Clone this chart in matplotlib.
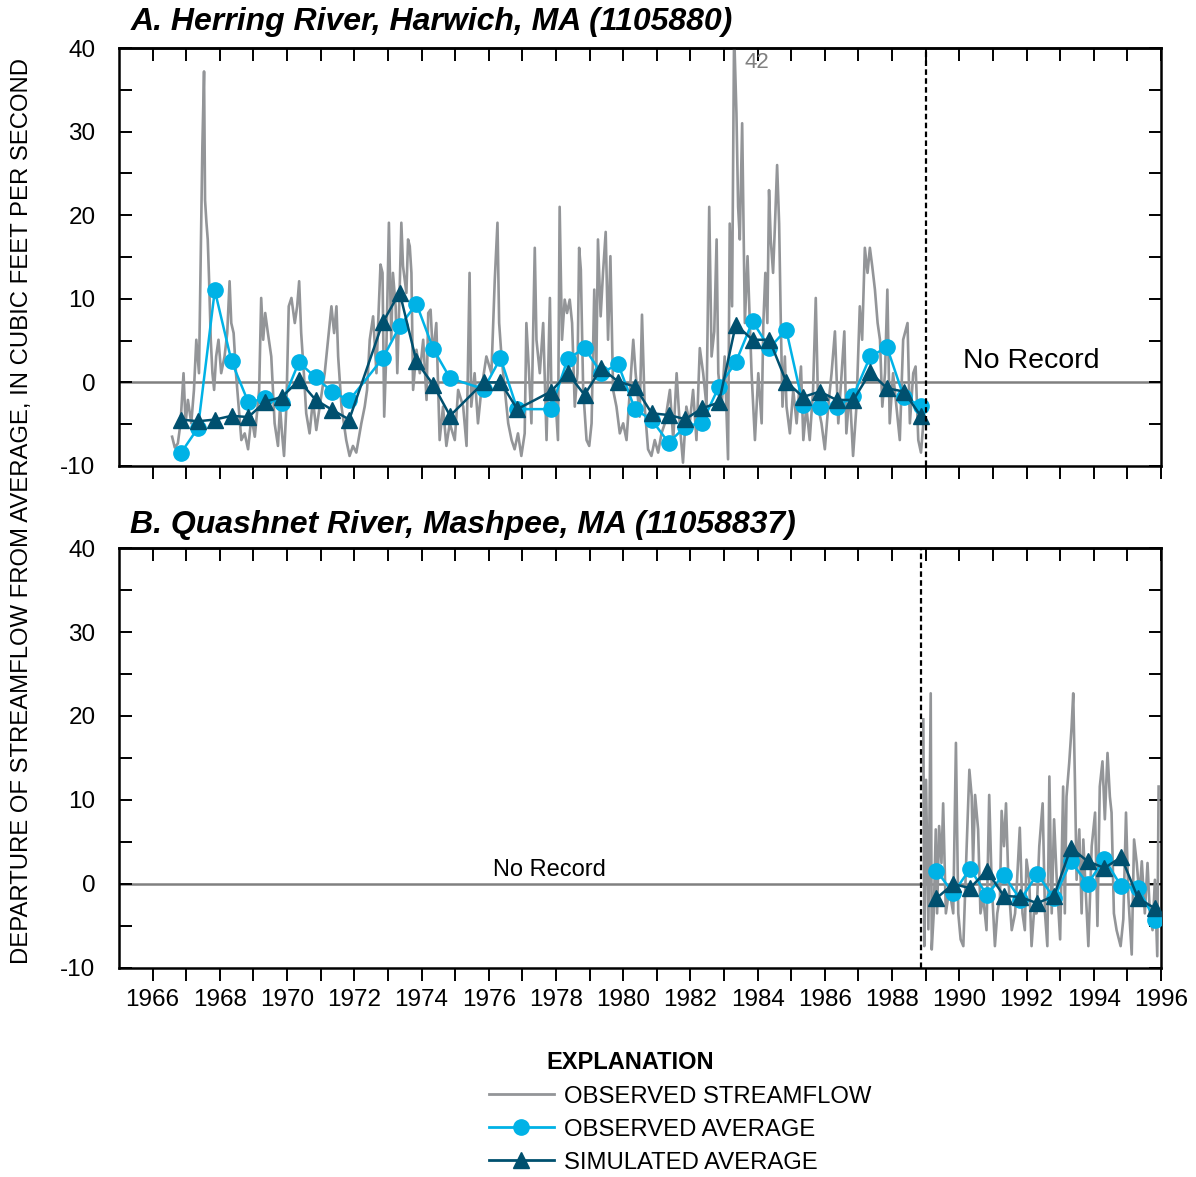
import numpy as np
import matplotlib
matplotlib.use('Agg')
import matplotlib.pyplot as plt
from matplotlib.lines import Line2D

plt.rcParams['font.family'] = ['Liberation Sans', 'DejaVu Sans']
plt.rcParams['axes.unicode_minus'] = False

# observed streamflow departures, Herring River
herring_years = [
    1966.58, 1966.66, 1966.75, 1966.83, 1966.92, 1966.98, 1967.05, 1967.15, 1967.23, 1967.30,
    1967.38, 1967.43, 1967.48, 1967.53, 1967.56, 1967.60, 1967.64, 1967.68, 1967.73, 1967.78,
    1967.83, 1967.89, 1967.96, 1968.04, 1968.14, 1968.22, 1968.29, 1968.34, 1968.41, 1968.48,
    1968.56, 1968.64, 1968.74, 1968.84, 1968.94, 1969.04, 1969.17, 1969.23, 1969.29, 1969.35,
    1969.43, 1969.53, 1969.63, 1969.73, 1969.79, 1969.85, 1969.91, 1969.98, 1970.05, 1970.13,
    1970.23, 1970.30, 1970.36, 1970.42, 1970.50, 1970.57, 1970.67, 1970.77, 1970.87, 1970.97,
    1971.12, 1971.22, 1971.32, 1971.40, 1971.47, 1971.52, 1971.62, 1971.76, 1971.86, 1971.96,
    1972.06, 1972.21, 1972.31, 1972.38, 1972.46, 1972.56, 1972.66, 1972.71, 1972.78, 1972.84,
    1972.89, 1972.95, 1973.03, 1973.10, 1973.15, 1973.23, 1973.28, 1973.35, 1973.40, 1973.45,
    1973.55, 1973.60, 1973.65, 1973.70, 1973.75, 1973.85, 1973.95, 1974.05, 1974.15, 1974.20,
    1974.27, 1974.34, 1974.44, 1974.54, 1974.64, 1974.74, 1974.84, 1974.99, 1975.09, 1975.24,
    1975.34, 1975.43, 1975.48, 1975.58, 1975.68, 1975.78, 1975.93, 1976.08, 1976.18, 1976.26,
    1976.31, 1976.38, 1976.48, 1976.58, 1976.68, 1976.77, 1976.87, 1976.97, 1977.07, 1977.12,
    1977.20, 1977.27, 1977.37, 1977.42, 1977.52, 1977.62, 1977.72, 1977.82, 1977.87, 1977.97,
    1978.06, 1978.11, 1978.18, 1978.26, 1978.33, 1978.41, 1978.48, 1978.56, 1978.64, 1978.69,
    1978.74, 1978.81, 1978.91, 1978.99, 1979.06, 1979.14, 1979.20, 1979.25, 1979.33, 1979.40,
    1979.48, 1979.55, 1979.62, 1979.70, 1979.80, 1979.90, 1980.00, 1980.10, 1980.20, 1980.30,
    1980.37, 1980.49, 1980.56, 1980.64, 1980.74, 1980.84, 1980.94, 1981.04, 1981.14, 1981.24,
    1981.39, 1981.49, 1981.59, 1981.68, 1981.78, 1981.88, 1981.98, 1982.08, 1982.18, 1982.28,
    1982.38, 1982.48, 1982.56, 1982.63, 1982.71, 1982.78, 1982.83, 1982.93, 1983.02, 1983.12,
    1983.17, 1983.24, 1983.30, 1983.37, 1983.42, 1983.47, 1983.54, 1983.62, 1983.70, 1983.82,
    1983.92, 1984.02, 1984.12, 1984.17, 1984.23, 1984.29, 1984.34, 1984.39, 1984.46, 1984.51,
    1984.58, 1984.64, 1984.69, 1984.74, 1984.81, 1984.86, 1984.96, 1985.06, 1985.16, 1985.29,
    1985.36, 1985.45, 1985.55, 1985.65, 1985.73, 1985.80, 1985.90, 1986.00, 1986.10, 1986.20,
    1986.30, 1986.40, 1986.50, 1986.58, 1986.64, 1986.74, 1986.84, 1986.94, 1987.04, 1987.11,
    1987.19, 1987.27, 1987.34, 1987.41, 1987.49, 1987.57, 1987.64, 1987.71, 1987.79, 1987.86,
    1987.93, 1988.03, 1988.13, 1988.23, 1988.33, 1988.46, 1988.53, 1988.63, 1988.70, 1988.78,
    1988.86, 1988.93,
]
herring_flow = [
    -6.5, -7.8, -7.3, -4.9, 1.1, -4.9, -2.1, -4.9, -0.9, 5.1,
    1.1, 15.1, 28.2, 37.2, 21.8, 19.2, 17.1, 12.3, 5.1, 1.1,
    -0.9, 3.1, 5.1, 1.1, 3.1, 5.9, 12.1, 7.1, 5.9, 1.1,
    -2.9, -6.9, -6.1, -8.0, -4.1, -6.5, -0.9, 10.1, 5.1, 8.3,
    5.9, 3.1, -4.9, -7.6, -2.9, -6.1, -8.8, -2.9, 9.1, 10.1,
    7.1, 9.1, 12.1, 5.9, 1.1, -3.7, -6.1, -2.1, -5.7, -2.9,
    1.1, 5.1, 9.1, 5.9, 9.1, 3.1, -2.9, -6.9, -8.8, -7.6,
    -8.4, -4.9, -2.9, -0.9, 5.1, 7.9, 1.1, 7.1, 14.1, 13.1,
    -4.1, 3.1, 19.1, 5.1, 13.1, 9.1, 1.1, 11.1, 19.1, 13.9,
    10.7, 17.1, 16.3, 13.1, -0.9, 3.9, 1.1, 5.1, -2.1, 8.3,
    8.7, 3.1, 7.1, -6.9, -2.9, -7.6, -4.9, -6.9, -0.9, -2.9,
    -7.6, 13.1, -2.9, 1.1, -4.9, -0.9, 3.1, 1.1, 12.3, 19.1,
    7.1, 3.1, -0.9, -4.9, -6.9, -8.0, -6.1, -8.8, -6.1, 7.1,
    1.1, -4.9, 16.1, 5.1, 1.1, 7.1, -6.9, 10.1, -2.9, -0.9,
    -6.9, 21.0, 5.1, 9.9, 8.3, 9.9, 7.1, -2.9, 1.1, 16.1,
    13.5, -0.9, -6.9, -7.6, -4.9, 11.1, 1.1, 17.1, 7.9, 13.1,
    18.0, 5.1, 15.1, -0.9, -2.9, -6.1, -4.9, -6.9, -0.9, 5.1,
    1.1, -4.1, 8.1, -2.9, -8.0, -8.8, -6.9, -8.4, -6.1, -4.9,
    -0.9, -6.9, 1.1, -4.9, -9.6, -2.9, -4.9, -0.9, -6.9, 4.1,
    1.1, -2.9, 21.0, 3.1, 6.1, 17.1, 1.1, -2.9, 3.1, -9.2,
    19.0, 9.1, 42.0, 32.2, 21.0, 17.1, 31.0, 7.1, 15.1, 1.1,
    -6.9, 1.1, -4.9, 7.1, 13.1, 7.1, 23.0, 17.1, 13.1, 18.2,
    26.0, 19.0, 7.1, -2.9, 3.1, -2.9, -6.1, -0.9, -4.9, 1.9,
    -6.9, -2.9, -6.9, -0.9, 10.1, -2.9, -4.9, -8.0, -2.9, 1.1,
    6.1, -4.9, 1.1, 6.1, -6.1, -0.9, -8.8, -2.9, 9.1, 5.1,
    16.1, 13.1, 16.1, 13.9, 11.1, 7.1, 5.1, -2.9, 1.1, 11.1,
    -4.9, 1.1, -2.9, -6.9, 5.1, 7.1, -4.9, 1.1, 1.9, -6.9,
    -8.4, -4.9,
]

# semiannual averages, Herring River
herring_avg_years = [
    1966.85, 1967.35, 1967.85, 1968.35, 1968.85, 1969.35, 1969.85, 1970.35, 1970.85, 1971.35,
    1971.85, 1972.85, 1973.35, 1973.85, 1974.35, 1974.85, 1975.85, 1976.35, 1976.85, 1977.85,
    1978.35, 1978.85, 1979.35, 1979.85, 1980.35, 1980.85, 1981.35, 1981.85, 1982.35, 1982.85,
    1983.35, 1983.85, 1984.35, 1984.85, 1985.35, 1985.85, 1986.35, 1986.85, 1987.35, 1987.85,
    1988.35, 1988.85,
]
herring_obs_avg = [
    -8.4, -5.45, 11.0, 2.5, -2.4, -1.9, -2.5, 2.4, 0.6, -1.15,
    -2.15, 2.9, 6.7, 9.4, 4.0, 0.5, -0.8, 2.9, -3.2, -3.2,
    2.8, 4.1, 1.1, 2.2, -3.2, -4.5, -7.2, -5.3, -4.8, -0.5,
    2.4, 7.3, 4.1, 6.3, -2.7, -2.9, -3.0, -1.6, 3.1, 4.2,
    -1.75, -2.8,
]
herring_sim_avg = [
    -4.45, -4.65, -4.45, -4.0, -4.15, -2.3, -1.75, 0.25, -2.1, -3.3,
    -4.45, 7.2, 10.75, 2.5, -0.3, -4.0, 0.0, 0.0, -3.2, -1.1,
    1.1, -1.5, 1.7, 0.1, -0.5, -3.7, -3.9, -4.4, -3.1, -2.4,
    6.9, 5.1, 5.1, 0.1, -1.75, -1.1, -2.1, -2.1, 1.2, -0.7,
    -1.1, -4.0,
]

# observed streamflow departures, Quashnet River
quashnet_years = [
    1988.93, 1988.96, 1989.01, 1989.08, 1989.15, 1989.18, 1989.24, 1989.30, 1989.34, 1989.40,
    1989.47, 1989.52, 1989.60, 1989.67, 1989.74, 1989.82, 1989.90, 1989.97, 1990.04, 1990.12,
    1990.22, 1990.30, 1990.37, 1990.41, 1990.47, 1990.56, 1990.63, 1990.71, 1990.81, 1990.89,
    1990.96, 1991.06, 1991.13, 1991.21, 1991.26, 1991.33, 1991.39, 1991.46, 1991.56, 1991.66,
    1991.72, 1991.80, 1991.88, 1991.95, 1992.00, 1992.08, 1992.15, 1992.22, 1992.30, 1992.38,
    1992.48, 1992.55, 1992.62, 1992.68, 1992.75, 1992.82, 1992.90, 1993.00, 1993.09, 1993.14,
    1993.19, 1993.27, 1993.34, 1993.39, 1993.44, 1993.49, 1993.57, 1993.64, 1993.69, 1993.77,
    1993.84, 1993.94, 1994.04, 1994.11, 1994.18, 1994.26, 1994.33, 1994.41, 1994.48, 1994.53,
    1994.60, 1994.68, 1994.80, 1994.88, 1994.96, 1995.03, 1995.13, 1995.20, 1995.28, 1995.36,
    1995.43, 1995.52, 1995.60, 1995.67, 1995.75, 1995.82, 1995.89, 1995.93,
]
quashnet_flow = [
    19.6, -7.4, 12.4, -5.4, 22.7, -7.8, -3.5, 6.5, -3.5, 6.9,
    2.5, 9.6, -3.5, -1.5, -1.5, -3.5, 16.8, -3.5, -6.6, -7.4,
    4.5, 13.6, 10.4, 2.5, 10.6, 6.5, -3.5, -1.5, -5.5, 10.6,
    0.5, -7.4, -3.5, -1.5, 8.7, 4.5, 9.6, 0.5, -5.5, -3.5,
    0.5, 6.7, -3.5, -5.5, 2.9, 0.5, -7.4, -3.5, -3.5, 4.5,
    9.6, -3.5, -7.4, 12.8, -3.5, 7.7, 0.5, -6.6, 11.6, -3.5,
    10.4, 14.4, 18.6, 22.7, 12.4, 0.5, 6.5, -3.5, 5.3, -1.5,
    -7.4, 4.5, 8.5, -5.0, 11.6, 14.6, 7.7, 15.6, 10.4, 8.5,
    -3.5, -5.5, -7.4, -4.2, 8.5, -1.5, -8.4, 5.3, 2.5, -1.5,
    2.7, -3.5, 2.5, -3.5, -5.5, 0.5, -8.6, 11.6,
]

quashnet_avg_years = [
    1989.32, 1989.82, 1990.32, 1990.82, 1991.32, 1991.82, 1992.32, 1992.82, 1993.32, 1993.82,
    1994.32, 1994.82, 1995.32, 1995.82,
]
quashnet_obs_avg = [1.6, -1.1, 1.8, -1.3, 1.1, -1.9, 1.2, -1.7, 2.7, 0.0, 3.0, -0.3, -0.5, -4.25]
quashnet_sim_avg = [-1.7, 0.0, -0.5, 1.6, -1.4, -1.55, -2.3, -1.4, 4.3, 2.7, 1.9, 3.2, -1.7, -2.9]

tick_years = list(range(1966, 1997))
tick_labels = [str(y) if y % 2 == 0 else '' for y in tick_years]
y_ticks = list(range(-10, 45, 5))
y_labels = [str(v) if v % 10 == 0 else '' for v in y_ticks]

GRAY = '#939598'
CYAN = '#00b2e6'
NAVY = '#00506f'

fig = plt.figure(figsize=(11.96, 11.77), dpi=100)
axA = fig.add_axes([0.0995, 0.6041, 0.8712, 0.3551])
axB = fig.add_axes([0.0995, 0.1776, 0.8712, 0.3568])


def style_axes(ax, show_labels):
    ax.set_xlim(1965, 1996)
    ax.set_ylim(-10, 40)
    ax.set_xticks(tick_years)
    if show_labels:
        ax.set_xticklabels(tick_labels, fontsize=17.5)
    else:
        ax.set_xticklabels([])
    ax.tick_params(axis='x', direction='out', length=9, width=1.4, pad=6, top=False)
    ax.set_yticks(y_ticks)
    ax.set_yticklabels(y_labels, fontsize=17.5)
    ax.tick_params(axis='y', direction='in', length=9, width=1.4, pad=17,
                   left=True, right=True)
    top = ax.secondary_xaxis('top')
    top.set_xticks(tick_years)
    top.set_xticklabels([])
    top.tick_params(direction='in', length=9, width=1.4)
    top.spines['top'].set_linewidth(1.8)
    for s in ax.spines.values():
        s.set_linewidth(1.8)


# A. Herring River
axA.axhline(0, color='#808080', lw=1.8, zorder=1)
axA.plot(herring_years, herring_flow, color=GRAY, lw=1.9, zorder=2)
axA.plot(herring_avg_years, herring_obs_avg, color=CYAN, lw=1.8, marker='o', ms=11, zorder=3)
axA.plot(herring_avg_years, herring_sim_avg, color=NAVY, lw=1.8, marker='^', ms=11, zorder=4)
axA.axvline(1989.0, color='black', lw=1.6, ls=(0, (2.5, 1.5)), zorder=5)
axA.text(1983.6, 38.3, '42', color='#808080', fontsize=16, ha='left', va='center')
axA.text(1990.1, 2.6, 'No Record', fontsize=20.5, ha='left', va='center')
style_axes(axA, False)

# B. Quashnet River
axB.axhline(0, color='#808080', lw=1.8, zorder=1)
axB.plot(quashnet_years, quashnet_flow, color=GRAY, lw=1.9, zorder=2)
axB.plot(quashnet_avg_years, quashnet_obs_avg, color=CYAN, lw=1.8, marker='o', ms=11, zorder=3)
axB.plot(quashnet_avg_years, quashnet_sim_avg, color=NAVY, lw=1.8, marker='^', ms=11, zorder=4)
axB.axvline(1988.85, color='black', lw=1.6, ls=(0, (2.5, 1.5)), zorder=5)
axB.text(1977.8, 1.7, 'No Record', fontsize=17, ha='center', va='center')
style_axes(axB, True)

fig.text(0.109, 0.9813, 'A. Herring River, Harwich, MA (1105880)',
         fontsize=23, fontweight='bold', fontstyle='italic', ha='left', va='center')
fig.text(0.109, 0.554, 'B. Quashnet River, Mashpee, MA (11058837)',
         fontsize=23, fontweight='bold', fontstyle='italic', ha='left', va='center')
fig.text(0.0184, 0.566, 'DEPARTURE OF STREAMFLOW FROM AVERAGE, IN CUBIC FEET PER SECOND',
         rotation=90, fontsize=17.2, ha='center', va='center')

# explanation
fig.text(0.527, 0.0977, 'EXPLANATION', fontsize=17, fontweight='bold', ha='center', va='center')
handles = [
    Line2D([], [], color=GRAY, lw=2),
    Line2D([], [], color=CYAN, lw=2, marker='o', ms=11),
    Line2D([], [], color=NAVY, lw=2, marker='^', ms=11),
]
labels = ['OBSERVED STREAMFLOW', 'OBSERVED AVERAGE', 'SIMULATED AVERAGE']
fig.legend(handles, labels, loc='upper left', bbox_to_anchor=(0.4089, 0.0775),
           frameon=False, borderpad=0, borderaxespad=0, handlelength=2.7,
           handletextpad=0.45, labelspacing=0.46, fontsize=17.2)

fig.savefig('out.png', dpi=100)
